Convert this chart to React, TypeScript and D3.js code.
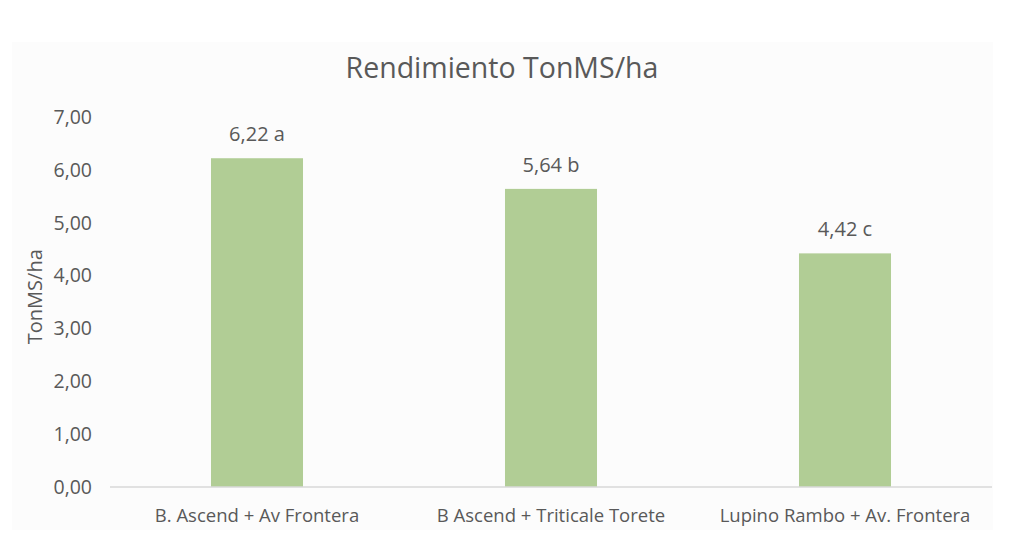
import { useRef, useEffect } from "react";
import * as d3 from "d3";

const categories = [
  "B. Ascend + Av Frontera",
  "B Ascend + Triticale Torete",
  "Lupino Rambo + Av. Frontera",
];
const values = [6.22, 5.64, 4.42];
const letters = ["a", "b", "c"];
const yTicks = [0, 1, 2, 3, 4, 5, 6, 7];

const w = 1024;
const h = 551;
const FONT = "'Open Sans', 'Noto Sans', sans-serif";
const TEXT = "#595959";

const App = () => {
  const ref = useRef<SVGSVGElement | null>(null);

  useEffect(() => {
    const svg = d3.select(ref.current);
    svg.selectAll("*").remove();

    // faint chart-area panel
    svg
      .append("rect")
      .attr("x", 12)
      .attr("y", 42)
      .attr("width", 981)
      .attr("height", 488)
      .attr("fill", "#fcfcfc");

    const scaleX = d3
      .scaleBand<string>()
      .domain(categories)
      .range([110, 992])
      .paddingInner(0.687)
      .paddingOuter(0.3435);

    const scaleY = d3.scaleLinear().domain([0, 7]).range([487, 117]);

    // title
    svg
      .append("text")
      .attr("x", 502)
      .attr("y", 78)
      .attr("text-anchor", "middle")
      .attr("font-family", FONT)
      .attr("font-size", 28.5)
      .attr("fill", TEXT)
      .text("Rendimiento TonMS/ha");

    // y tick labels
    svg
      .selectAll("text.ytick")
      .data(yTicks)
      .enter()
      .append("text")
      .attr("class", "ytick")
      .attr("x", 92)
      .attr("y", (d) => scaleY(d))
      .attr("dy", "0.35em")
      .attr("text-anchor", "end")
      .attr("font-family", FONT)
      .attr("font-size", 19.5)
      .attr("fill", TEXT)
      .text((d) => d3.format(".2f")(d).replace(".", ","));

    // y axis title
    svg
      .append("text")
      .attr("transform", `translate(42,${scaleY(3.6)}) rotate(-90)`)
      .attr("text-anchor", "middle")
      .attr("font-family", FONT)
      .attr("font-size", 20)
      .attr("fill", TEXT)
      .text("TonMS/ha");

    // bars
    svg
      .selectAll("rect.bar")
      .data(values)
      .enter()
      .append("rect")
      .attr("class", "bar")
      .attr("x", (_, i) => scaleX(categories[i]) as number)
      .attr("width", scaleX.bandwidth())
      .attr("y", (d) => scaleY(d))
      .attr("height", (d) => scaleY(0) - scaleY(d))
      .attr("fill", "#b1cd95");

    // base line
    svg
      .append("line")
      .attr("x1", 110)
      .attr("x2", 992)
      .attr("y1", scaleY(0))
      .attr("y2", scaleY(0))
      .attr("stroke", "#d9d9d9")
      .attr("stroke-width", 1.5);

    // data labels
    svg
      .selectAll("text.lbl")
      .data(values)
      .enter()
      .append("text")
      .attr("class", "lbl")
      .attr("x", (_, i) => (scaleX(categories[i]) as number) + scaleX.bandwidth() / 2)
      .attr("y", (d) => scaleY(d) - 17)
      .attr("text-anchor", "middle")
      .attr("font-family", FONT)
      .attr("font-size", 20)
      .attr("fill", TEXT)
      .text((d, i) => d3.format(".2f")(d).replace(".", ",") + " " + letters[i]);

    // category labels
    svg
      .selectAll("text.cat")
      .data(categories)
      .enter()
      .append("text")
      .attr("class", "cat")
      .attr("x", (d) => (scaleX(d) as number) + scaleX.bandwidth() / 2)
      .attr("y", 522)
      .attr("text-anchor", "middle")
      .attr("font-family", FONT)
      .attr("font-size", 18.5)
      .attr("fill", TEXT)
      .text((d) => d);
  }, []);

  return (
    <div style={{ position: "absolute", left: 0, top: 0 }}>
      <svg ref={ref} width={w} height={h} style={{ display: "block", background: "#fff" }} />
    </div>
  );
};

export default App;
